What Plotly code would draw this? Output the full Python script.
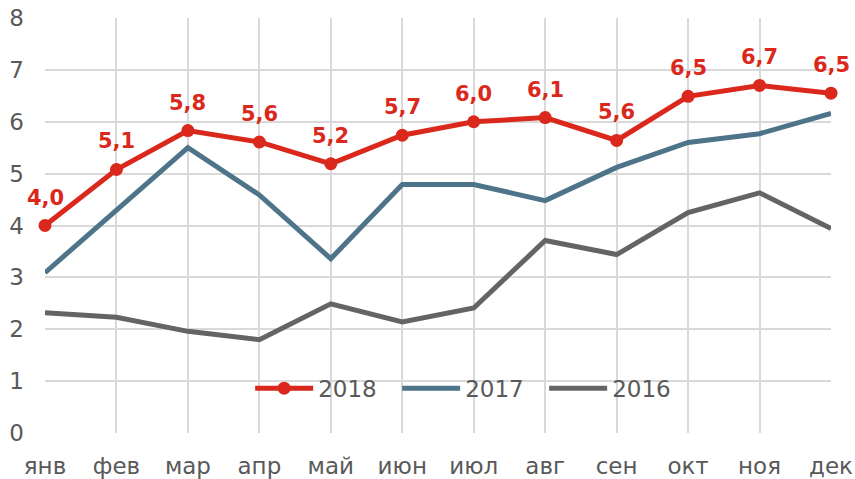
import plotly.graph_objects as go

months = ["янв", "фев", "мар", "апр", "май", "июн", "июл", "авг", "сен", "окт", "ноя", "дек"]
y2018 = [4.0, 5.08, 5.83, 5.61, 5.19, 5.74, 6.0, 6.08, 5.64, 6.49, 6.70, 6.55]
y2017 = [3.09, 4.3, 5.5, 4.59, 3.36, 4.79, 4.79, 4.48, 5.12, 5.6, 5.77, 6.16]
y2016 = [2.32, 2.23, 1.96, 1.80, 2.49, 2.14, 2.41, 3.71, 3.44, 4.25, 4.63, 3.94]
y_ticks = [0, 1, 2, 3, 4, 5, 6, 7, 8]

xs = list(range(len(months)))
labels2018 = [f"{v:.1f}".replace(".", ",") for v in y2018]

RED = "#DA291C"
BLUE = "#4E7489"
GRAY = "#646464"
FONT = "DejaVu Sans"

fig = go.Figure()
fig.add_trace(go.Scatter(x=xs, y=y2016, mode="lines", name="2016",
                         line=dict(color=GRAY, width=5)))
fig.add_trace(go.Scatter(x=xs, y=y2017, mode="lines", name="2017",
                         line=dict(color=BLUE, width=5)))
fig.add_trace(go.Scatter(x=xs, y=y2018, mode="lines+markers", name="2018",
                         line=dict(color=RED, width=5),
                         marker=dict(color=RED, size=13),
                         cliponaxis=False))

for x, y, t in zip(xs, y2018, labels2018):
    fig.add_annotation(x=x, y=y, text=t, showarrow=False, yshift=28,
                       font=dict(family=FONT, size=21, color=RED, weight="bold"))

fig.update_layout(
    width=855, height=479,
    margin=dict(l=45, r=24, t=18, b=46, autoexpand=False),
    paper_bgcolor="white", plot_bgcolor="white",
    font=dict(family=FONT, size=23, color="#595959"),
    showlegend=True,
    legend=dict(orientation="h", x=0.261, y=0.108, xanchor="left", yanchor="middle",
                bgcolor="rgba(0,0,0,0)", traceorder="reversed",
                font=dict(family=FONT, size=23, color="#595959"),
                itemwidth=58, entrywidth=74, entrywidthmode="pixels"),
    xaxis=dict(tickmode="array", tickvals=xs, ticktext=months, range=[0, 11],
               showgrid=True, gridcolor="#D9D9D9", gridwidth=1.5, automargin=False,
               zeroline=False, showline=False, ticks="", ticklabelstandoff=17,
               ticklabeloverflow="allow",
               tickfont=dict(family=FONT, size=23, color="#595959")),
    yaxis=dict(tickmode="array", tickvals=y_ticks, range=[0, 8], automargin=False,
               showgrid=True, gridcolor="#D9D9D9", gridwidth=1.5,
               zeroline=False, showline=False, ticks="", ticklabelstandoff=20,
               ticklabeloverflow="allow",
               tickfont=dict(family=FONT, size=23, color="#595959")),
)

fig.write_html(
    "out.html",
    config={"displayModeBar": False},
    post_script="document.body.style.margin='0';document.body.style.overflow='hidden';",
)
